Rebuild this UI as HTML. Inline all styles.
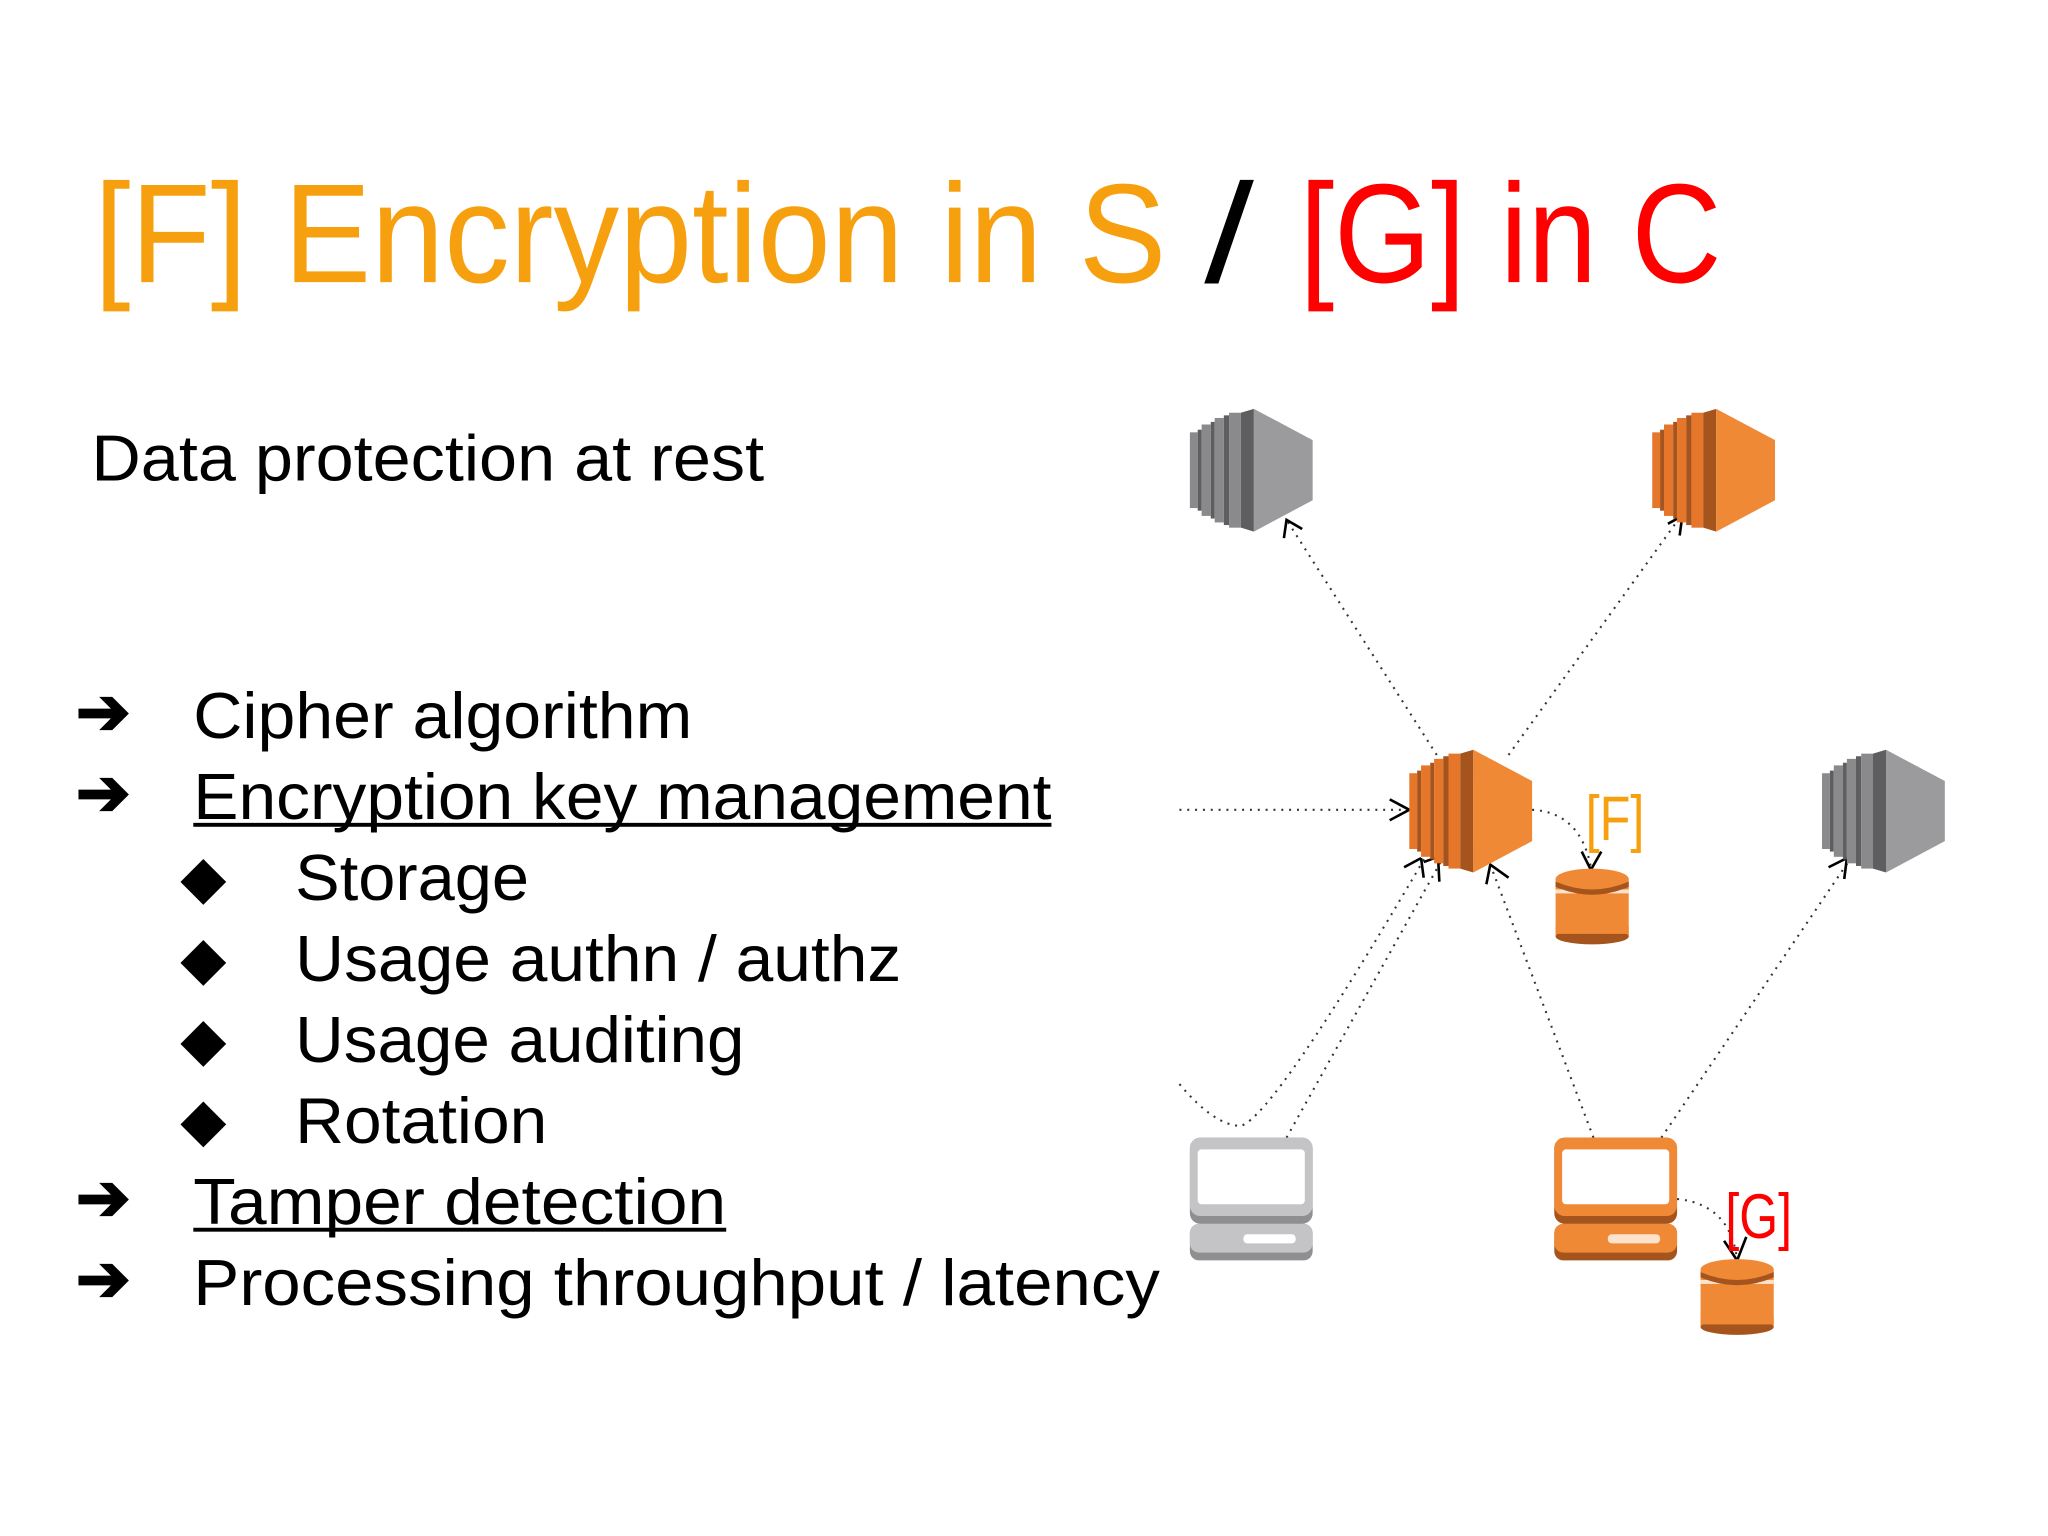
<!DOCTYPE html>
<html><head><meta charset="utf-8"><style>
html,body{margin:0;padding:0;background:#fff;}
svg{display:block;}
text{font-family:"Liberation Sans",sans-serif;}
</style></head><body>
<svg width="2048" height="1536" viewBox="0 0 1568 1176" xmlns="http://www.w3.org/2000/svg">
<defs>
<g id="srvG">
 <rect x="0" y="18" width="6" height="58" fill="#8a8a8c"/><rect x="6" y="16" width="3" height="62" fill="#5e5e60"/>
 <rect x="9" y="12" width="7" height="70" fill="#8a8a8c"/><rect x="16" y="10" width="3" height="74" fill="#5e5e60"/>
 <rect x="19" y="7" width="7" height="80" fill="#8a8a8c"/><rect x="26" y="5" width="4" height="84" fill="#5e5e60"/>
 <rect x="30" y="3" width="9" height="88" fill="#8a8a8c"/><polygon points="39,3 49,0 49,94 39,91" fill="#5e5e60"/>
 <polygon points="49,0 94,24 94,70 49,94" fill="#9b9a9d"/>
</g>
<g id="srvO">
 <rect x="0" y="18" width="6" height="58" fill="#e5762a"/><rect x="6" y="16" width="3" height="62" fill="#a4541c"/>
 <rect x="9" y="12" width="7" height="70" fill="#e5762a"/><rect x="16" y="10" width="3" height="74" fill="#a4541c"/>
 <rect x="19" y="7" width="7" height="80" fill="#e5762a"/><rect x="26" y="5" width="4" height="84" fill="#a4541c"/>
 <rect x="30" y="3" width="9" height="88" fill="#e5762a"/><polygon points="39,3 49,0 49,94 39,91" fill="#a4541c"/>
 <polygon points="49,0 94,24 94,70 49,94" fill="#f08935"/>
</g>
<g id="db">
 <rect x="0" y="8" width="56" height="44" fill="#f08935"/>
 <ellipse cx="28" cy="52" rx="28" ry="6" fill="#a4541c"/>
 <rect x="0" y="44" width="56" height="6" fill="#f08935"/>
 <rect x="0" y="16" width="56" height="3" fill="#fde3cc"/>
 <ellipse cx="28" cy="8" rx="28" ry="8" fill="#f08935"/>
 <path d="M0,10 Q28,22 56,10 L56,14 Q28,26 0,14Z" fill="#a4541c"/>
</g>
</defs>

<text x="72" y="216" font-size="108" fill="#f7a00f" textLength="821" lengthAdjust="spacingAndGlyphs">[F] Encryption in S</text>
<text x="922" y="216" font-size="108" fill="#000" textLength="38" lengthAdjust="spacingAndGlyphs">/</text>
<text x="995" y="216" font-size="108" fill="#ff0000" textLength="323" lengthAdjust="spacingAndGlyphs">[G] in C</text>

<text x="70" y="368" font-size="50" fill="#000" textLength="515" lengthAdjust="spacingAndGlyphs">Data protection at rest</text>

<g font-size="50" fill="#000">
 <text x="58" y="562" font-size="50" font-weight="bold">➔</text>
 <text x="148" y="565" textLength="382" lengthAdjust="spacingAndGlyphs">Cipher algorithm</text>
 <text x="58" y="624" font-size="50" font-weight="bold">➔</text>
 <text x="148" y="627" textLength="657" lengthAdjust="spacingAndGlyphs">Encryption key management</text>
 <rect x="148" y="630" width="657" height="3"/>
 <text x="138" y="687" font-size="46">◆</text>
 <text x="226" y="689" textLength="179" lengthAdjust="spacingAndGlyphs">Storage</text>
 <text x="138" y="749" font-size="46">◆</text>
 <text x="226" y="751" textLength="464" lengthAdjust="spacingAndGlyphs">Usage authn / authz</text>
 <text x="138" y="811" font-size="46">◆</text>
 <text x="226" y="813" textLength="344" lengthAdjust="spacingAndGlyphs">Usage auditing</text>
 <text x="138" y="873" font-size="46">◆</text>
 <text x="226" y="875" textLength="193" lengthAdjust="spacingAndGlyphs">Rotation</text>
 <text x="58" y="934" font-size="50" font-weight="bold">➔</text>
 <text x="148" y="937" textLength="408" lengthAdjust="spacingAndGlyphs">Tamper detection</text>
 <rect x="148" y="940" width="408" height="3"/>
 <text x="58" y="996" font-size="50" font-weight="bold">➔</text>
 <text x="148" y="999" textLength="740" lengthAdjust="spacingAndGlyphs">Processing throughput / latency</text>
</g>

<g fill="none" stroke="#333" stroke-width="1.6" stroke-dasharray="1.5 4.5">
 <line x1="1100" y1="578" x2="985" y2="398"/>
 <line x1="1155" y1="578" x2="1287" y2="395"/>
 <line x1="903" y1="620" x2="1078" y2="620"/>
 <path d="M1173,620 Q1210,622 1218,664"/>
 <path d="M903,830 Q930,862 950,862 Q975,855 1092,655"/>
 <line x1="985" y1="871" x2="1103" y2="660"/>
 <line x1="1220" y1="871" x2="1141" y2="662"/>
 <line x1="1272" y1="871" x2="1415" y2="660"/>
 <path d="M1284,918 Q1325,922 1330,965"/>
</g>
<g fill="none" stroke="#000" stroke-width="2">
 <polyline points="983,412 985,398 997,405"/>
 <polyline points="1277,401 1288,395 1286,410"/>
 <polyline points="1064,612 1079,620 1064,628"/>
 <polyline points="1211,652 1218,666 1226,652"/>
 <polyline points="1075,664 1088,657"/>
 <polyline points="1088,657 1090,672"/>
 <polyline points="1090,660 1101,656 1102,675"/>
 <polyline points="1138,677 1141,662 1155,672"/>
 <polyline points="1400,664 1414,657 1412,673"/>
 <polyline points="1320,950 1330,965 1337,947"/>
</g>

<use href="#srvG" x="911" y="313"/>
<use href="#srvO" x="1265" y="313"/>
<use href="#srvO" x="1079" y="574"/>
<use href="#srvG" x="1395" y="574"/>

<use href="#db" x="1191" y="665"/>
<use href="#db" x="1302" y="964"/>

<g transform="translate(911,871)">
 <rect x="0" y="0" width="94" height="66" rx="8" fill="#8f8f91"/>
 <rect x="0" y="0" width="94" height="60" rx="8" fill="#c4c4c6"/>
 <rect x="6" y="9" width="82" height="42" rx="3" fill="#fff"/>
 <rect x="0" y="66" width="94" height="28" rx="7" fill="#8f8f91"/>
 <rect x="0" y="66" width="94" height="22" rx="7" fill="#c4c4c6"/>
 <rect x="41" y="74" width="40" height="7" rx="3" fill="#fff"/>
</g>
<g transform="translate(1190,871)">
 <rect x="0" y="0" width="94" height="66" rx="8" fill="#a4541c"/>
 <rect x="0" y="0" width="94" height="60" rx="8" fill="#f08935"/>
 <rect x="6" y="9" width="82" height="42" rx="3" fill="#fff"/>
 <rect x="0" y="66" width="94" height="28" rx="7" fill="#a4541c"/>
 <rect x="0" y="66" width="94" height="22" rx="7" fill="#f08935"/>
 <rect x="41" y="74" width="40" height="7" rx="3" fill="#fde3cc"/>
</g>

<text x="1214" y="643" font-size="48" fill="#f7a00f" textLength="45" lengthAdjust="spacingAndGlyphs">[F]</text>
<text x="1321" y="948" font-size="48" fill="#ff0000" textLength="51" lengthAdjust="spacingAndGlyphs">[G]</text>
</svg>
</body></html>
